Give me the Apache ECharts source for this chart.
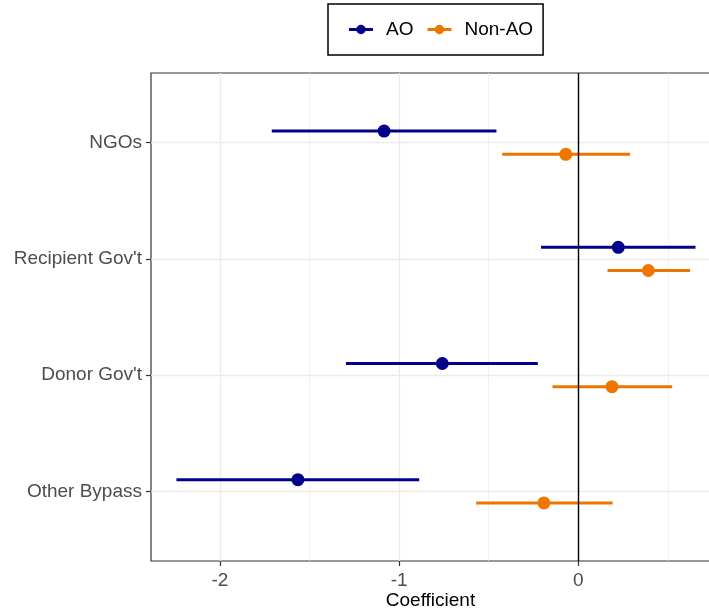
<!DOCTYPE html>
<html>
<head>
<meta charset="utf-8">
<script src="https://cdn.jsdelivr.net/npm/echarts@6/dist/echarts.min.js"></script>
<style>html,body{margin:0;padding:0;background:#fff;}#chart{width:709px;height:611px;}</style>
</head>
<body>
<div id="chart"></div>
<script>
const categories = ["NGOs", "Recipient Gov't", "Donor Gov't", "Other Bypass"];
const aoEst  = [-1.084, 0.223, -0.759, -1.565];
const aoLow  = [-1.711, -0.208, -1.297, -2.243];
const aoHigh = [-0.457, 0.654, -0.226, -0.888];
const nonEst  = [-0.070, 0.391, 0.188, -0.192];
const nonLow  = [-0.425, 0.163, -0.144, -0.570];
const nonHigh = [0.289, 0.624, 0.524, 0.192];
const xTicks = [-2, -1, 0];
const xMinor = [-1.5, -0.5, 0.5];
const yTicks = [1, 2, 3, 4];
const dodge = 0.1;

const AO_COLOR = '#00008B';
const NON_COLOR = '#EE7600';
const FONT = "'Liberation Sans', Arial, sans-serif";

function errSeries(name, low, high, color, off) {
  return {
    type: 'custom', name: name, z: 3,
    itemStyle: { color: color },
    renderItem: function (params, api) {
      const y = api.value(2);
      const p1 = api.coord([api.value(0), y]);
      const p2 = api.coord([api.value(1), y]);
      return { type: 'line', shape: { x1: p1[0], y1: p1[1], x2: p2[0], y2: p2[1] },
               style: { stroke: color, lineWidth: 3 } };
    },
    encode: { x: [0, 1], y: 2 },
    data: low.map((l, i) => [l, high[i], i + 1 + off]),
    silent: true
  };
}
function ptSeries(name, est, color, off) {
  return {
    type: 'scatter', name: name, z: 4,
    symbol: 'circle', symbolSize: 13,
    itemStyle: { color: color, opacity: 1 },
    data: est.map((v, i) => [v, i + 1 + off]),
    silent: true
  };
}
const icon = 'path://M0,3.5L24,3.5L24,6.5L0,6.5Z M12,0.25 A4.75,4.75 0 1 1 11.99,0.25 Z';

const chart = echarts.init(document.getElementById('chart'), null, { renderer: 'canvas' });
chart.setOption({
  animation: false,
  backgroundColor: '#fff',
  color: [AO_COLOR, NON_COLOR],
  textStyle: { fontFamily: FONT },
  grid: { left: 151, right: -1, top: 73, bottom: 50, show: true, outerBoundsMode: 'none', containLabel: false,
          borderColor: '#333333', borderWidth: 1.2, backgroundColor: '#fff' },
  legend: {
    left: 328, top: 4,
    orient: 'horizontal',
    padding: [16, 10, 16, 21],
    borderColor: '#000', borderWidth: 1.5,
    itemWidth: 24, itemHeight: 10, itemGap: 14,
    textStyle: { fontSize: 19, color: '#000', fontFamily: FONT, padding: [0, 0, 0, 8] },
    data: [
      { name: 'AO', icon: icon, itemStyle: { color: AO_COLOR } },
      { name: 'Non-AO', icon: icon, itemStyle: { color: NON_COLOR } }
    ]
  },
  xAxis: {
    type: 'value', min: -2.385, max: 0.735,
    name: 'Coefficient', nameLocation: 'middle', nameGap: 30, nameMoveOverlap: false,
    nameTextStyle: { fontSize: 19, color: '#000', fontFamily: FONT },
    axisLine: { show: false, onZero: false },
    axisTick: { show: true, customValues: xTicks, length: 5, lineStyle: { color: '#333333', width: 1.2 } },
    axisLabel: { customValues: xTicks, fontSize: 19, color: '#4D4D4D', margin: 10, fontFamily: FONT,
                 formatter: v => (v < 0 ? '-' + Math.abs(v) : String(v)) },
    splitLine: { show: true, lineStyle: { color: '#EBEBEB', width: 1.3 } }
  },
  yAxis: {
    type: 'value', min: 0.4, max: 4.6, inverse: true,
    axisLine: { show: false, onZero: false },
    axisTick: { show: true, customValues: yTicks, length: 5, lineStyle: { color: '#333333', width: 1.2 } },
    axisLabel: { customValues: yTicks, fontSize: 19, color: '#4D4D4D', margin: 9, fontFamily: FONT,
                 formatter: v => categories[Math.round(v) - 1] || '' },
    splitLine: { show: true, lineStyle: { color: '#EBEBEB', width: 1.3 } }
  },
  series: [
    {
      type: 'scatter', name: '_minor', data: [], z: 1, silent: true,
      markLine: { silent: true, z: 1, symbol: ['none', 'none'], label: { show: false },
        lineStyle: { color: '#EBEBEB', width: 0.7, type: 'solid' },
        data: xMinor.map(v => ({ xAxis: v })) }
    },
    errSeries('AO', aoLow, aoHigh, AO_COLOR, -dodge),
    ptSeries('AO', aoEst, AO_COLOR, -dodge),
    errSeries('Non-AO', nonLow, nonHigh, NON_COLOR, dodge),
    ptSeries('Non-AO', nonEst, NON_COLOR, dodge),
    {
      type: 'scatter', name: '_zero', data: [], z: 10, silent: true,
      markLine: { silent: true, symbol: ['none', 'none'], label: { show: false }, z: 10,
        lineStyle: { color: '#000', width: 1.4, type: 'solid' },
        data: [{ xAxis: 0 }] }
    }
  ]
});
</script>
</body>
</html>
